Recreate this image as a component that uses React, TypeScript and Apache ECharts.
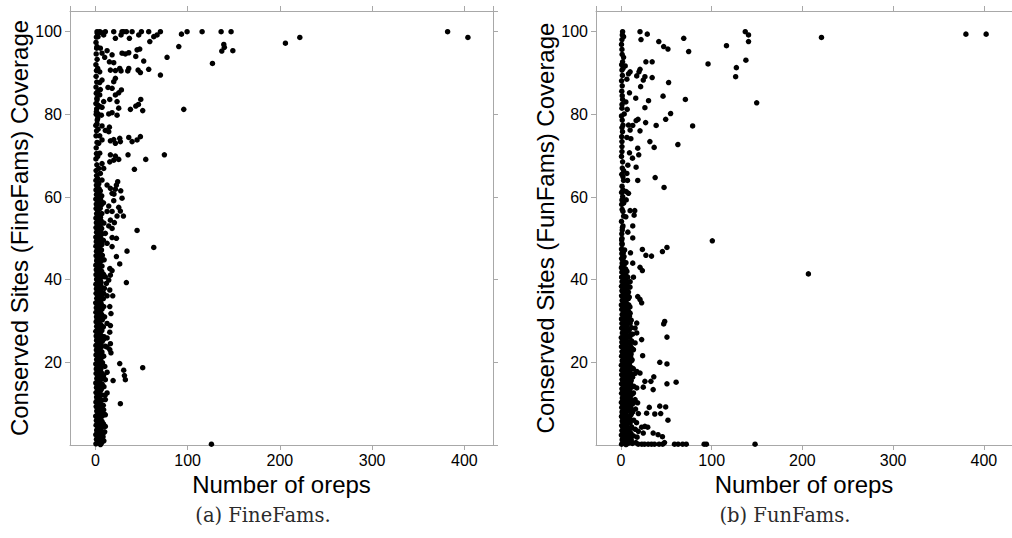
import React, { useEffect, useRef } from "react";
import * as echarts from "echarts";

// ---------------- DATA ----------------
const X_MIN = -27.5;
const X_MAX = 431;
const Y_MIN = 0;
const Y_MAX = 105;

const xTitle = "Number of oreps";
const yTitleFine = "Conserved Sites (FineFams) Coverage";
const yTitleFun = "Conserved Sites (FunFams) Coverage";
const captionFine = "(a) FineFams.";
const captionFun = "(b) FunFams.";

// FineFams: dense column near zero
const fineDense: [number, number][] = [
  [0.6,0.3],[1.2,1.4],[0.5,2.5],[1.4,3.6],[0.8,4.8],[1.1,5.9],[0.4,7.0],[1.5,8.2],[0.9,9.3],[0.6,10.4],[1.3,11.6],[0.7,12.7],[1.2,13.9],[0.5,15.0],[1.6,16.1],[0.8,17.3],[1.0,18.4],[0.5,19.6],[1.4,20.7],[0.7,21.8],[1.1,23.0],[0.6,24.1],[1.3,25.3],[0.9,26.4],[0.5,27.5],[1.4,28.7],[0.8,29.8],[1.2,31.0],[0.6,32.1],[1.0,33.2],[0.4,34.4],[1.5,35.5],[0.8,36.7],[1.1,37.8],[0.6,38.9],[1.3,40.1],[0.7,41.2],[1.0,42.4],[0.5,43.5],[1.4,44.6],[0.8,45.8],[1.2,46.9],[0.6,48.1],[1.0,49.2],[0.5,50.3],[1.3,51.5],[0.7,52.6],[1.1,53.8],[0.6,54.9],[1.4,56.0],[0.8,57.2],[1.0,58.3],[0.5,59.5],[1.2,60.6],[0.7,61.7],[1.1,62.9],[0.6,64.0],[1.3,65.2],
  [2.3,0.9],[2.6,2.0],[2.1,3.1],[2.7,4.2],[2.4,5.3],[2.2,6.4],[2.8,7.6],[2.3,8.7],[2.5,9.8],[2.0,11.0],[2.7,12.1],[2.4,13.3],[2.2,14.4],[2.8,15.6],[2.3,16.7],[2.6,17.8],[2.1,19.0],[2.5,20.1],[2.7,21.3],[2.2,22.4],[2.4,23.5],[2.8,24.7],[2.1,25.8],[2.6,27.0],[2.3,28.1],[2.5,29.2],[2.0,30.4],[2.7,31.5],[2.4,32.7],[2.2,33.8],[2.8,34.9],[2.3,36.1],[2.6,37.2],[2.1,38.4],[2.5,39.5],[2.7,40.6],[2.2,41.8],[2.4,42.9],[2.8,44.1],[2.1,45.2],[2.6,46.3],[2.3,47.5],[2.5,48.6],[2.0,49.8],[2.7,50.9],[2.4,52.0],[2.2,53.2],[2.8,54.3],[2.3,55.5],[2.6,56.6],[2.1,57.7],[2.5,58.9],[2.7,60.0],[2.2,61.2],[2.4,62.3],[2.6,63.6],
  [3.4,0.8],[4.1,2.0],[3.1,3.2],[4.5,4.4],[3.7,5.6],[4.2,6.8],[3.2,8.0],[4.4,9.2],[3.6,10.4],[4.0,11.6],[3.3,12.8],[4.6,14.0],[3.8,15.2],[4.1,16.4],[3.2,17.6],[4.4,18.8],[3.5,20.0],[4.2,21.2],[3.3,22.4],[4.5,23.6],[3.7,24.8],[4.0,26.0],[3.2,27.2],[4.3,28.4],[3.6,29.6],[4.1,30.8],[3.4,32.0],[4.6,33.2],[3.8,34.4],[4.0,35.6],[3.3,36.8],[4.4,38.0],[3.6,39.2],[4.2,40.4],[3.1,41.6],[4.5,42.8],[3.7,44.0],[4.0,45.2],[3.4,46.4],[4.3,47.6],[3.5,48.8],[4.1,50.0],[3.2,51.2],[4.4,52.4],[3.8,53.6],[4.0,54.8],[3.3,56.0],[4.5,57.2],[3.6,58.4],[4.2,59.6],[3.4,60.8],[4.0,62.0],[3.7,63.2],
  [5.5,0.1],[5.3,1.4],[5.7,2.6],[5.4,3.8],[5.8,5.0],[5.2,6.2],[5.6,7.4],[5.4,8.6],[5.7,9.8],[5.3,11.0],[5.5,12.2],[5.8,13.4],[5.2,14.6],[5.6,15.8],[5.4,17.0],[5.7,18.2],[5.3,19.4],[5.5,20.6],[5.8,21.8],[5.2,23.0],[5.6,24.2],[5.4,25.4],[5.7,26.6],[5.3,27.8],[5.5,29.0],[5.8,30.2],[5.2,31.4],[5.6,32.6],[5.4,33.8],[5.7,35.0],[5.3,36.2],[5.5,37.4],[5.8,38.6],[5.2,39.8],[5.6,41.0],[5.4,42.2],[5.7,43.4],[5.3,44.6],[5.5,45.8],[5.8,47.0],[5.2,48.2],[5.6,49.4],[5.4,50.6],[5.7,51.8],[5.3,53.0],[5.5,55.1],[5.2,57.3],[5.6,59.4],[5.4,61.5],
  [6.4,0.4],[7.2,1.7],[6.1,3.0],[7.5,4.3],[6.7,5.6],[7.0,6.9],[6.2,8.2],[7.6,9.5],[6.8,10.8],[7.1,12.1],[6.3,13.4],[7.4,14.7],[6.6,16.0],[7.2,17.3],[6.0,18.6],[7.7,19.9],[6.9,21.2],[7.1,22.5],[6.4,23.8],[7.5,25.1],[6.6,26.4],[7.0,27.7],[6.2,29.0],[7.6,30.3],[6.8,31.6],[7.2,32.9],[6.3,34.2],[7.4,35.5],[6.7,36.8],[7.0,38.1],[6.1,39.4],[7.5,40.7],[6.9,42.0],[7.2,43.3],[6.4,44.6],[7.6,45.9],[6.6,47.2],[7.1,48.5],[6.2,49.8],[7.3,51.1],[6.8,52.4],[6.3,54.2],[7.0,56.0],[6.5,58.1],[6.9,60.3],
  [9.2,1.0],[10.1,3.2],[8.8,5.1],[9.9,7.4],[8.6,9.6],[10.4,12.0],[9.3,14.1],[8.9,16.8],[10.2,19.0],[9.0,21.5],[10.6,23.9],[9.4,26.2],[8.7,28.6],[10.0,31.0],[9.1,33.5],[8.6,35.4],[9.8,37.9],[8.9,41.3],[9.5,44.8],[8.7,49.5],[9.2,53.7],[8.8,58.6],
  [0.8,66.4],[1.6,67.8],[0.6,69.2],[1.2,70.5],[0.9,71.9],[1.8,73.2],[0.7,74.8],[1.3,76.0],[0.5,77.3],[2.0,78.6],[0.9,80.0],[1.4,81.3],[0.6,82.6],[1.7,83.9],[1.0,85.1],[0.7,86.6],[1.5,87.8],[0.8,89.2],[1.2,90.6],[0.6,92.0],[1.9,93.3],[0.9,94.6],[1.4,96.0],[0.7,97.4],[1.1,98.7],[2.2,99.6],
];

// FineFams: scattered points
const fineSpread: [number, number][] = [
  [381.8,100],[403.8,98.6],[221.6,98.6],[206,97.2],[125.8,0.2],
  [147.1,100],[136.3,100],[115.7,100],[99.4,100],[93.3,99.4],[90.4,96.4],[77.7,93.8],[126.9,92.3],[139.2,96.9],[139.8,96.2],[137,95.3],[149,95.4],[95.8,81.2],[74.8,70.2],[63.3,47.8],[51.3,18.7],
  [1.8,100],[4.7,100],[6.1,99.8],[10.8,100],[19.9,100],[28.9,100],[30.7,100],[33.6,100],[39.8,100],[49.9,100],[57.8,100],[66.9,99.2],[70.5,100],
  [2.9,98.8],[9,99.2],[21.7,98.4],[27.8,99.2],[36.9,98.4],[47,99.2],[59,97.6],[63.3,98.8],
  [1.8,96.4],[5.4,96],[7.2,94.8],[12.7,95.4],[18.1,94.4],[15.2,92.7],[10.1,93.8],[28.9,94.8],[32.5,94.6],[36.2,94.9],[45.2,95.6],[48.1,95.8],[43.8,94],[52.4,92.9],[19.9,92.5],
  [2.5,91.1],[4.7,90.3],[16.3,90.7],[21.7,90.6],[26.4,91.1],[27.8,90.5],[36.2,91.1],[35.1,90.5],[46.3,90.7],[48.8,90.1],[57.8,90.9],[70.5,89.5],[21.7,88.7],[19.9,87.9],[4.7,87.7],[7.2,88.3],[13.7,86.5],
  [2.5,85.5],[5.4,86],[4.7,84.7],[18.1,86.3],[21.7,84.7],[25.3,85.2],[28.2,85.9],[1.8,83.5],[9,83.1],[15.6,83.6],[23.5,83.1],[49.2,83.6],[46.7,82.4],[43.8,82],[38,81.2],[51.3,80.9],
  [2.5,82.3],[4.7,81.9],[7.2,81.7],[1.1,80.6],[2.9,80.1],[6.5,79.8],[14.5,80.1],[18.1,80.4],[23.5,79.8],[25.3,81.5],[2.5,79],[1.8,77.7],[7.2,77.2],[15.2,76.9],[10.8,76.1],[14.5,75.8],[2.9,76.4],[4.7,74.8],[7.2,73.8],[3.6,73],[16.3,73.6],[19.9,73.9],[36.2,74.4],[39.8,73.4],[45.2,73.8],[48.8,74.6],[26.4,74.2],[21.7,73],[27.1,73.4],
  [16.3,70.2],[21.7,69.9],[25.3,69.1],[15.6,68.5],[19.9,68.9],[35.4,70.2],[54.6,69.1],[42.3,66.7],
  [4.7,70.6],[2.5,69.8],[7.2,68.1],[3.6,66.9],[9,66.9],[5.4,65.7],[2.5,64.5],[7.2,64.1],[24.2,63.7],[22.8,62.9],[27.5,61.5],[21.7,61.9],[16.3,62.1],[12.7,62.9],[18.1,60.9],[20.2,60.7],[28.9,59.7],[19.9,59.1],[14.5,57.8],[25.3,57.5],[27.1,56.6],[12.7,56.5],[18.1,56.5],[23.5,55.4],[30.4,55.4],[16.3,54.4],[20.6,53.8],[14.5,53],[18.1,52.4],[45.2,51.9],[10.8,51.2],[18.1,50.2],[22.8,50],[12.7,48.8],[18.1,48],[34.3,46.9],[22.8,45.6],[26.4,43.8],[15.6,42.7],[18.1,42.2],[16.3,41.1],[33.6,39.3],[14.5,39.9],[10.8,40.7],[11.9,39.1],[15.6,37.5],[9,36.7],[12.7,36.1],[18.8,36.1],
  [15.6,33.5],[16.9,31.8],[12.7,29.4],[16.3,28.9],[15.6,27.3],[12.7,25.9],[9,25.6],[16.3,24.5],[12.7,23.7],[15.6,23.1],[16.9,22.3],[12.7,17.6],[8.3,16.5],[10.8,15.8],[19.2,15.6],[26.4,19.7],[30.7,18.1],[31.5,16.8],[32.5,15.8],[27.1,10],[12.7,12.6],[10.8,11],[9,8.5],[10.8,7.3],[7.2,5.7],[10.8,4.5],[9,3],[8.3,2],
];

// FunFams: dense column near zero
const funDense: [number, number][] = [
  [0.7,0.2],[1.3,1.3],[0.5,2.4],[1.1,3.5],[0.8,4.7],[1.4,5.8],[0.6,6.9],[1.2,8.0],[0.9,9.1],[0.5,10.3],[1.5,11.4],[0.7,12.5],[1.1,13.6],[0.6,14.8],[1.3,15.9],[0.8,17.0],[1.0,18.1],[0.5,19.3],[1.4,20.4],[0.7,21.5],[1.2,22.6],[0.6,23.8],[1.0,24.9],[0.4,26.0],[1.5,27.1],[0.8,28.3],[1.1,29.4],[0.6,30.5],[1.3,31.6],[0.9,32.8],[0.5,33.9],[1.4,35.0],[0.7,36.1],[1.1,37.3],[0.6,38.4],[1.2,39.5],[0.8,40.6],[1.0,41.8],[0.5,42.9],[1.3,44.0],[0.7,45.1],[1.0,46.3],[0.6,47.4],[1.2,48.5],[0.8,49.6],
  [2.4,0.9],[2.2,2.0],[2.7,3.1],[2.3,4.2],[2.6,5.3],[2.1,6.4],[2.5,7.6],[2.8,8.7],[2.2,9.8],[2.4,11.0],[2.7,12.1],[2.3,13.3],[2.6,14.4],[2.0,15.6],[2.5,16.7],[2.8,17.8],[2.2,19.0],[2.4,20.1],[2.7,21.3],[2.1,22.4],[2.6,23.5],[2.3,24.7],[2.5,25.8],[2.8,27.0],[2.2,28.1],[2.4,29.2],[2.7,30.4],[2.1,31.5],[2.6,32.7],[2.3,33.8],[2.5,34.9],[2.8,36.1],[2.2,37.2],[2.4,38.4],[2.7,39.5],[2.1,40.6],[2.6,41.8],[2.3,42.9],[2.5,44.1],[2.2,45.2],[2.6,46.5],
  [3.5,0.6],[4.2,1.8],[3.2,3.0],[4.5,4.2],[3.8,5.4],[4.0,6.6],[3.3,7.8],[4.4,9.0],[3.6,10.2],[4.1,11.4],[3.1,12.6],[4.6,13.8],[3.7,15.0],[4.2,16.2],[3.4,17.4],[4.4,18.6],[3.6,19.8],[4.0,21.0],[3.2,22.2],[4.5,23.4],[3.8,24.6],[4.1,25.8],[3.3,27.0],[4.3,28.2],[3.5,29.4],[4.0,30.6],[3.4,31.8],[4.6,33.0],[3.7,34.2],[4.1,35.4],[3.2,36.6],[4.4,37.8],[3.6,39.0],[4.0,40.2],[3.3,41.4],[4.5,42.6],[3.8,43.8],[3.4,45.6],[4.0,47.2],
  [5.5,0.1],[5.3,1.4],[5.7,2.6],[5.4,3.8],[5.8,5.0],[5.2,6.2],[5.6,7.4],[5.4,8.6],[5.7,9.8],[5.3,11.0],[5.5,12.2],[5.8,13.4],[5.2,14.6],[5.6,15.8],[5.4,17.0],[5.7,18.2],[5.3,19.4],[5.5,20.6],[5.8,21.8],[5.2,23.0],[5.6,24.2],[5.4,25.4],[5.7,26.6],[5.3,27.8],[5.5,29.0],[5.8,30.2],[5.2,31.4],[5.6,32.6],[5.4,33.8],[5.7,35.0],[5.3,36.2],[5.5,37.4],[5.8,38.6],[5.2,39.8],[5.6,41.0],[5.4,42.4],[5.5,44.1],
  [6.5,0.3],[7.3,1.6],[6.1,2.9],[7.6,4.2],[6.8,5.5],[7.0,6.8],[6.2,8.1],[7.5,9.4],[6.7,10.7],[7.2,12.0],[6.3,13.3],[7.4,14.6],[6.6,15.9],[7.1,17.2],[6.0,18.5],[7.7,19.8],[6.9,21.1],[7.2,22.4],[6.4,23.7],[7.5,25.0],[6.6,26.3],[7.0,27.6],[6.2,28.9],[7.6,30.2],[6.8,31.5],[7.1,32.8],[6.3,34.1],[7.4,35.4],[6.7,36.7],[7.0,38.0],[6.1,39.3],[7.5,40.6],[6.6,42.0],
  [8.3,0.9],[8.1,2.4],[8.5,3.9],[8.2,5.4],[8.6,6.9],[8.0,8.4],[8.4,9.9],[8.2,11.4],[8.6,12.9],[8.1,14.4],[8.3,15.9],[8.5,17.4],[8.0,18.9],[8.4,20.4],[8.2,21.9],[8.6,23.4],[8.1,24.9],[8.3,26.4],[8.5,27.9],[8.0,29.4],[8.4,30.9],[8.2,32.4],[8.6,33.9],[8.1,35.4],[8.3,37.0],[8.5,39.4],
  [9.3,0.5],[10.4,2.1],[9.0,3.7],[10.1,5.3],[9.5,6.9],[10.6,8.5],[9.1,10.1],[10.2,11.7],[9.6,13.3],[10.5,14.9],[9.2,16.5],[10.0,18.1],[9.4,19.7],[10.7,21.3],[9.1,22.9],[10.3,24.5],[9.7,26.1],[9.0,27.8],[10.2,29.5],[9.4,31.2],[9.9,33.4],[9.2,35.8],[10.0,38.2],
  [11.4,1.2],[11.1,2.8],[11.7,4.4],[11.3,6.0],[11.6,7.6],[11.0,9.2],[11.5,10.8],[11.2,12.4],[11.8,14.0],[11.3,15.6],[11.5,17.2],[11.1,18.8],[11.6,20.4],[11.2,22.0],[11.4,23.6],[11.7,25.2],[11.0,26.8],[11.5,28.4],[11.3,30.2],
  [12.6,0.4],[13.8,2.2],[12.2,4.1],[14.1,6.0],[12.9,8.0],[13.5,10.1],[12.4,12.3],[14.3,14.2],[12.8,16.4],[13.6,18.5],[12.3,20.6],[13.2,23.0],[12.7,26.8],
  [16.5,0.6],[17.8,1.9],[15.9,3.8],[17.2,5.4],[16.1,8.7],[18.4,10.2],
  [0.9,51.1],[1.6,52.6],[0.6,54.1],[1.3,57.0],[0.8,58.2],[1.9,60.1],[0.7,61.1],[1.2,62.6],[0.9,65.5],[1.5,67.0],[0.6,69.8],[1.1,72.2],[0.8,74.6],[1.7,75.8],[0.6,79.6],[1.2,82.4],[0.9,85.6],[1.4,86.9],[0.7,88.1],[1.6,89.4],[0.8,92.0],[1.3,94.5],[0.6,96.9],[1.5,99.2],
];

// FunFams: scattered points
const funSpread: [number, number][] = [
  [380.2,99.4],[402.5,99.4],[221,98.6],[206.6,41.4],[100.7,49.4],[149.6,82.8],[137,100],[140.6,99.2],[140.6,97.6],[137.7,93.1],[127.2,91.3],[126.4,89.1],[116.3,96.6],[96,92.2],[69.2,98.4],[74.6,95.2],[71,83.6],[79,77.2],[62.7,72.7],[54.7,80.2],[52.5,87.7],[51.8,95.8],[47.1,96.4],[41.7,97.6],
  [1.8,100],[2.9,98.8],[1.1,98.1],[21,100],[29,99.4],[22.1,98.1],[1.1,95.7],
  [2.9,93.8],[1.8,92.7],[4.7,91.7],[2.2,91.1],[1.1,90.7],[27.5,92.7],[34.4,92.7],[10.1,90.3],[8.3,89.8],[6.5,88.5],[21,90.9],[19.9,90.3],[17.4,89.3],[26.4,89.1],[24.6,88.3],[34.4,88.9],[21.7,86.7],
  [1.4,84.5],[9.4,85.2],[1.8,83.6],[16.3,83.9],[30.4,83.3],[46.4,84.4],[5.4,83],[26.4,81.6],[1.1,81.5],[6.9,81.2],[3.6,80.1],
  [1.4,78.6],[2.2,77.4],[1.1,76.8],[8.3,77.4],[13,77.3],[16.7,78.5],[18.8,78.8],[27.2,78],[38.8,77.3],[49.3,78.8],[10.1,76.2],[21,76],
  [1.1,73.4],[6.5,74.4],[10.9,74.1],[31.9,73.4],[36.6,72],[18.5,71.8],
  [1.1,71],[9.4,70.7],[19.6,70.2],[12.7,69.4],[1.8,68.5],[7.6,67.7],[16.7,67.2],[2.9,66.4],[6.5,65.7],[2.2,64.9],[2.9,64],[7.2,64],[18.5,64],[37.7,64.7],[47.5,62.3],
  [2.2,61.7],[5.8,61.3],[8.3,60.9],[1.1,59.3],[5.8,59.3],[2.9,58.5],[10.1,56.7],[15.2,56.7],[14.5,55.6],[2.2,56.5],[2.9,55.4],[5.4,55.2],
  [2.2,53],[1.4,52],[7.6,51.5],[13,53],[13,50.1],[1.1,50],[1.1,48.8],
  [1.4,47.2],[10.5,46.5],[23.6,47.3],[27.5,45.9],[33.7,45.7],[45.7,46.8],[50.7,47.8],
  [2.2,45.6],[2.9,44.4],[1.1,43.1],[4.7,42.6],[13,44],[21,43],[23.6,42.2],[2.9,41.5],[1.1,40.6],[13.8,40.6],[10.1,39.5],[6.5,38.7],[2.2,37.5],[7.2,36.5],[18.5,35.9],
  [21,35.2],[22.8,34.4],[10.1,31.9],[8.3,30.3],[48.2,29.9],[47.1,29.3],[50.7,26.1],[17.4,29.5],[15.6,28.3],[17.4,27.1],[22.8,25.5],[15.6,24.7],[13.8,23.1],[23.9,21.6],[42.8,20],[50.7,19.6],[60.8,15.2],[50.7,14.8],[17.4,17.8],[15.6,17.3],[21,17.4],[26.4,15.4],[33,15.4],[36.2,16.5],[24.6,14],[35.5,13.4],[17.4,13.8],[13.8,12.6],[31.2,9.1],[42.8,9.4],[49.3,9.2],[37.3,7.5],[28.3,7.7],[19.2,7.6],[43.8,7.6],[51.8,6],[26.4,4.5],[29.5,4.3],[22.8,4.3],[40.9,2.5],[45.7,2],[19.2,3.3],[35.5,2.9],[24.6,2.9],[8.3,6.1],[10.9,7.3],[15.6,11],[10.1,11.8],[7.2,16.2],
  [19,0.2],[23,0.2],[26,0.2],[30,0.2],[33.7,0.2],[37,0.2],[42,0.2],[46,0.2],[48,0.6],[59,0.2],[63,0.2],[68,0.2],[72,0.2],[91.7,0.2],[94.2,0.2],[147.8,0.2],
];

// ---------------- CHART ----------------
const GRAY = "#a8a8a8";
const SANS = "Liberation Sans";

function makeXAxes(gridIndex: number) {
  const common = {
    type: "value" as const,
    gridIndex,
    min: X_MIN,
    max: X_MAX,
    splitLine: { show: false },
    axisLine: { show: true, onZero: false, lineStyle: { color: GRAY, width: 1 } },
    axisTick: { show: true, inside: false, length: 5, lineStyle: { color: GRAY } },
  };
  return [
    {
      ...common,
      position: "bottom",
      axisLabel: {
        show: true, margin: 7, fontFamily: SANS, fontSize: 16, color: "#000",
        showMinLabel: false, showMaxLabel: false,
      },
      name: xTitle,
      nameLocation: "middle",
      nameGap: 23,
      nameTextStyle: { fontFamily: SANS, fontSize: 24, color: "#000" },
    },
    { ...common, position: "top", axisLabel: { show: false } },
  ];
}

function makeYAxes(gridIndex: number, title: string) {
  const common = {
    type: "value" as const,
    gridIndex,
    min: Y_MIN,
    max: Y_MAX,
    splitLine: { show: false },
    axisLine: { show: true, onZero: false, lineStyle: { color: GRAY, width: 1 } },
    axisTick: { show: true, inside: false, length: 5, lineStyle: { color: GRAY } },
  };
  return [
    {
      ...common,
      position: "left",
      axisLabel: {
        show: true, margin: 8, fontFamily: SANS, fontSize: 16, color: "#000",
        showMinLabel: false, showMaxLabel: false,
      },
      name: title,
      nameLocation: "middle",
      nameGap: 32,
      nameRotate: 90,
      nameTextStyle: { fontFamily: SANS, fontSize: 24, color: "#000" },
    },
    { ...common, position: "right", axisLabel: { show: false } },
  ];
}

const dotStyle = { color: "#000", opacity: 1 };

export default function App() {
  const ref = useRef<HTMLDivElement>(null);
  useEffect(() => {
    if (!ref.current) return;
    const chart = echarts.init(ref.current, null, { renderer: "svg" });
    const option = {
      animation: false,
      backgroundColor: "#fff",
      grid: [
        { left: 70, right: 519, top: 11, bottom: 93, containLabel: false },
        { left: 596, right: -9, top: 11, bottom: 93, containLabel: false },
      ],
      xAxis: [...makeXAxes(0), ...makeXAxes(1)],
      yAxis: [...makeYAxes(0, yTitleFine), ...makeYAxes(1, yTitleFun)],
      series: [
        {
          type: "scatter", xAxisIndex: 0, yAxisIndex: 0, symbol: "circle", symbolSize: 5.5,
          itemStyle: dotStyle, data: [...fineDense, ...fineSpread],
        },
        {
          type: "scatter", xAxisIndex: 2, yAxisIndex: 2, symbol: "circle", symbolSize: 5.5,
          itemStyle: dotStyle, data: [...funDense, ...funSpread],
        },
      ],
      graphic: [
        {
          type: "text", x: 263, y: 515,
          style: {
            text: captionFine, fontFamily: "DejaVu Serif", fontSize: 19.5, fill: "#2b2b2b",
            align: "center", verticalAlign: "middle", textAlign: "center", textVerticalAlign: "middle",
          },
        },
        {
          type: "text", x: 785, y: 515,
          style: {
            text: captionFun, fontFamily: "DejaVu Serif", fontSize: 19.5, fill: "#2b2b2b",
            align: "center", verticalAlign: "middle", textAlign: "center", textVerticalAlign: "middle",
          },
        },
      ],
    };
    chart.setOption(option as any);
    return () => chart.dispose();
  }, []);
  return (
    <div style={{ position: "fixed", left: 0, top: 0, width: 1012, height: 538, overflow: "hidden", background: "#fff" }}>
      <div ref={ref} style={{ width: 1012, height: 538 }} />
    </div>
  );
}
